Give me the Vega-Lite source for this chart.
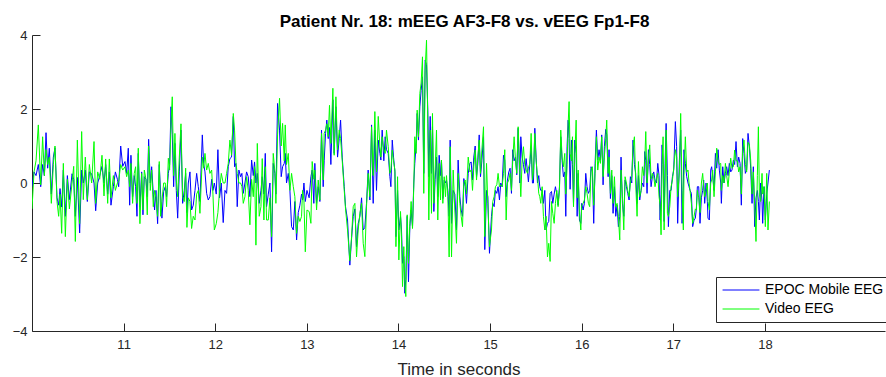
{
  "$schema": "https://vega.github.io/schema/vega-lite/v6.json",
  "width": 853,
  "height": 296,
  "autosize": {"type": "none"},
  "padding": {"left": 32, "top": 35, "right": 1, "bottom": 46},
  "background": "white",
  "title": {"text": "Patient Nr. 18: mEEG AF3-F8 vs. vEEG Fp1-F8", "font": "Liberation Sans", "fontSize": 17, "fontWeight": "bold", "color": "black", "offset": -2, "anchor": "middle", "dx": 6},
  "config": {
    "view": {"stroke": null},
    "axis": {"grid": false, "domainColor": "#262626", "tickColor": "#262626", "labelColor": "#262626", "titleColor": "#262626", "labelFont": "Liberation Sans", "titleFont": "Liberation Sans", "labelFontSize": 13, "titleFontSize": 17, "titleFontWeight": "normal", "tickSize": -8, "domainWidth": 1, "tickWidth": 1}
  },
  "data": {"values": [
    {"t":10.000,"m":-0.1,"v":-0.7},{"t":10.022,"m":0.3,"v":0.3},{"t":10.044,"m":0.2,"v":0.6},{"t":10.069,"m":0.5,"v":1.57},{"t":10.095,"m":-0.1,"v":-0.05},{"t":10.116,"m":0.5,"v":1.25},{"t":10.135,"m":0.2,"v":0.2},{"t":10.153,"m":1.36,"v":0.9},{"t":10.171,"m":0.4,"v":0.5},{"t":10.189,"m":0.94,"v":0.7},{"t":10.211,"m":-0.3,"v":-0.55},{"t":10.233,"m":0.7,"v":0.5},{"t":10.251,"m":0.95,"v":1.0},{"t":10.273,"m":-0.4,"v":-0.5},{"t":10.291,"m":-0.6,"v":-0.9},{"t":10.306,"m":-0.15,"v":-0.3},{"t":10.324,"m":-0.65,"v":-1.36},{"t":10.342,"m":0.35,"v":0.53},{"t":10.364,"m":-0.9,"v":-1.45},{"t":10.386,"m":0.2,"v":0.1},{"t":10.408,"m":-0.45,"v":-0.7},{"t":10.437,"m":0.25,"v":0.0},{"t":10.455,"m":0.1,"v":0.45},{"t":10.473,"m":-0.9,"v":-1.58},{"t":10.495,"m":0.15,"v":1.16},{"t":10.520,"m":-1.35,"v":-1.1},{"t":10.542,"m":0.35,"v":1.39},{"t":10.560,"m":0.0,"v":-0.45},{"t":10.582,"m":0.35,"v":0.7},{"t":10.604,"m":-0.5,"v":-0.45},{"t":10.626,"m":0.3,"v":0.5},{"t":10.651,"m":0.25,"v":0.0},{"t":10.677,"m":0.0,"v":1.12},{"t":10.695,"m":-0.75,"v":-0.55},{"t":10.717,"m":0.0,"v":0.3},{"t":10.739,"m":0.2,"v":0.1},{"t":10.764,"m":0.45,"v":0.75},{"t":10.786,"m":0.0,"v":-0.35},{"t":10.804,"m":0.5,"v":0.65},{"t":10.826,"m":-0.3,"v":-0.55},{"t":10.844,"m":0.3,"v":0.65},{"t":10.862,"m":-0.6,"v":-0.4},{"t":10.888,"m":-0.1,"v":0.2},{"t":10.910,"m":0.3,"v":-0.2},{"t":10.932,"m":0.1,"v":0.0},{"t":10.946,"m":-0.1,"v":0.05},{"t":10.968,"m":1.0,"v":0.5},{"t":10.990,"m":0.45,"v":0.35},
    {"t":11.015,"m":0.58,"v":0.44},{"t":11.033,"m":0.26,"v":0.17},{"t":11.051,"m":0.94,"v":0.35},{"t":11.066,"m":-0.6,"v":-0.1},{"t":11.080,"m":0.75,"v":0.53},{"t":11.098,"m":-0.37,"v":-0.55},{"t":11.116,"m":0.2,"v":0.26},{"t":11.131,"m":-0.1,"v":0.44},{"t":11.146,"m":-0.9,"v":-0.55},{"t":11.160,"m":0.8,"v":0.94},{"t":11.178,"m":-0.65,"v":-1.1},{"t":11.197,"m":0.3,"v":0.26},{"t":11.211,"m":-0.86,"v":-0.73},{"t":11.226,"m":0.17,"v":0.35},{"t":11.244,"m":0.1,"v":0.1},{"t":11.258,"m":-0.37,"v":-0.86},{"t":11.273,"m":1.18,"v":1.0},{"t":11.291,"m":0.0,"v":-0.2},{"t":11.306,"m":0.44,"v":0.35},{"t":11.324,"m":-0.3,"v":-0.64},{"t":11.338,"m":-0.73,"v":-0.2},{"t":11.353,"m":-0.2,"v":-0.4},{"t":11.371,"m":-1.1,"v":-0.9},{"t":11.389,"m":0.5,"v":0.58},{"t":11.404,"m":-0.3,"v":-0.9},{"t":11.418,"m":-0.95,"v":-0.5},{"t":11.437,"m":-0.23,"v":0.0},{"t":11.455,"m":-0.1,"v":0.0},{"t":11.469,"m":-0.37,"v":-0.64},{"t":11.488,"m":0.26,"v":0.67},{"t":11.502,"m":0.5,"v":0.35},{"t":11.517,"m":2.06,"v":1.6},{"t":11.531,"m":1.3,"v":2.33},{"t":11.546,"m":-0.1,"v":0.2},{"t":11.560,"m":1.07,"v":1.34},{"t":11.575,"m":-0.2,"v":0.08},{"t":11.590,"m":-0.95,"v":-0.37},{"t":11.608,"m":0.3,"v":0.7},{"t":11.626,"m":1.43,"v":1.6},{"t":11.644,"m":-0.55,"v":-0.37},{"t":11.662,"m":-0.2,"v":-0.5},{"t":11.677,"m":0.26,"v":0.4},{"t":11.691,"m":-0.8,"v":-1.2},{"t":11.706,"m":0.0,"v":-0.4},{"t":11.724,"m":0.3,"v":-0.5},{"t":11.742,"m":-0.73,"v":-1.23},{"t":11.760,"m":-0.6,"v":-0.9},{"t":11.779,"m":-0.2,"v":-1.0},{"t":11.797,"m":0.26,"v":-0.3},{"t":11.815,"m":-0.1,"v":-0.2},{"t":11.833,"m":-0.5,"v":-0.82},{"t":11.859,"m":1.3,"v":0.7},{"t":11.873,"m":0.53,"v":0.4},{"t":11.888,"m":0.3,"v":0.8},{"t":11.906,"m":-0.28,"v":0.35},{"t":11.924,"m":-0.46,"v":0.53},{"t":11.942,"m":-0.37,"v":0.26},{"t":11.961,"m":0.1,"v":0.35},{"t":11.975,"m":-0.2,"v":-0.3},{"t":11.990,"m":0.0,"v":-1.27},
    {"t":12.011,"m":-0.3,"v":-1.1},{"t":12.029,"m":0.9,"v":-0.8},{"t":12.047,"m":-0.4,"v":-0.2},{"t":12.066,"m":0.0,"v":0.26},{"t":12.087,"m":-1.07,"v":0.0},{"t":12.106,"m":-0.2,"v":0.0},{"t":12.124,"m":-0.28,"v":0.26},{"t":12.142,"m":0.44,"v":0.53},{"t":12.160,"m":0.66,"v":1.16},{"t":12.178,"m":0.7,"v":0.75},{"t":12.197,"m":1.8,"v":1.88},{"t":12.211,"m":0.44,"v":1.43},{"t":12.226,"m":0.53,"v":0.53},{"t":12.240,"m":-0.64,"v":0.26},{"t":12.258,"m":0.35,"v":0.0},{"t":12.277,"m":0.17,"v":0.0},{"t":12.291,"m":0.26,"v":-0.1},{"t":12.306,"m":-0.28,"v":-0.55},{"t":12.324,"m":0.0,"v":-0.37},{"t":12.342,"m":0.3,"v":0.17},{"t":12.360,"m":0.17,"v":-0.2},{"t":12.378,"m":-0.37,"v":-1.13},{"t":12.397,"m":0.62,"v":0.1},{"t":12.415,"m":0.2,"v":-0.37},{"t":12.429,"m":0.57,"v":0.44},{"t":12.444,"m":0.0,"v":-1.68},{"t":12.459,"m":0.26,"v":1.07},{"t":12.480,"m":-0.55,"v":-0.9},{"t":12.499,"m":-0.2,"v":-0.64},{"t":12.513,"m":0.17,"v":0.66},{"t":12.531,"m":-0.3,"v":-1.0},{"t":12.546,"m":0.8,"v":0.44},{"t":12.560,"m":-0.64,"v":-1.0},{"t":12.579,"m":-0.3,"v":-1.0},{"t":12.597,"m":0.0,"v":-0.4},{"t":12.615,"m":-1.86,"v":-1.45},{"t":12.633,"m":0.53,"v":0.8},{"t":12.651,"m":0.26,"v":0.3},{"t":12.662,"m":-0.3,"v":-0.55},{"t":12.680,"m":2.15,"v":1.3},{"t":12.702,"m":1.43,"v":2.29},{"t":12.720,"m":0.17,"v":1.0},{"t":12.735,"m":0.44,"v":1.61},{"t":12.753,"m":0.53,"v":0.6},{"t":12.764,"m":0.8,"v":1.57},{"t":12.778,"m":0.0,"v":0.5},{"t":12.797,"m":0.26,"v":0.8},{"t":12.815,"m":-0.2,"v":-0.2},{"t":12.833,"m":-1.18,"v":0.26},{"t":12.852,"m":-1.27,"v":-0.1},{"t":12.869,"m":-0.5,"v":-0.37},{"t":12.888,"m":-1.54,"v":-1.36},{"t":12.906,"m":-0.8,"v":-0.9},{"t":12.924,"m":-0.6,"v":-1.04},{"t":12.942,"m":-0.3,"v":-0.9},{"t":12.953,"m":-0.46,"v":-0.2},{"t":12.968,"m":0.0,"v":-0.46},{"t":12.983,"m":-0.5,"v":-1.86},{"t":13.001,"m":-0.2,"v":-0.73},
    {"t":13.025,"m":-0.4,"v":-0.77},{"t":13.044,"m":0.17,"v":-1.09},{"t":13.058,"m":0.35,"v":0.58},{"t":13.076,"m":-0.55,"v":0.1},{"t":13.087,"m":0.53,"v":0.35},{"t":13.106,"m":-0.55,"v":-0.73},{"t":13.124,"m":-0.1,"v":0.08},{"t":13.142,"m":-0.5,"v":-0.46},{"t":13.160,"m":1.43,"v":1.34},{"t":13.178,"m":-0.1,"v":0.08},{"t":13.189,"m":0.6,"v":1.34},{"t":13.204,"m":1.34,"v":1.43},{"t":13.218,"m":1.7,"v":1.6},{"t":13.233,"m":1.2,"v":1.25},{"t":13.247,"m":1.5,"v":2.1},{"t":13.262,"m":0.5,"v":1.07},{"t":13.284,"m":2.25,"v":2.56},{"t":13.298,"m":0.8,"v":0.75},{"t":13.317,"m":2.06,"v":2.33},{"t":13.335,"m":0.7,"v":0.9},{"t":13.353,"m":1.2,"v":1.43},{"t":13.368,"m":1.7,"v":1.2},{"t":13.386,"m":0.7,"v":0.6},{"t":13.408,"m":-0.1,"v":-0.2},{"t":13.422,"m":-0.64,"v":-0.7},{"t":13.444,"m":-1.0,"v":-1.27},{"t":13.469,"m":-2.22,"v":-2.1},{"t":13.488,"m":-1.5,"v":-1.45},{"t":13.506,"m":-0.9,"v":-0.64},{"t":13.524,"m":-0.7,"v":-0.55},{"t":13.542,"m":-1.73,"v":-2.0},{"t":13.560,"m":-1.1,"v":-1.27},{"t":13.579,"m":-0.9,"v":-0.82},{"t":13.597,"m":-0.4,"v":-0.55},{"t":13.615,"m":-1.27,"v":-1.63},{"t":13.633,"m":-1.2,"v":-1.99},{"t":13.651,"m":-0.55,"v":-0.64},{"t":13.669,"m":0.35,"v":0.26},{"t":13.688,"m":-0.46,"v":-0.37},{"t":13.706,"m":1.57,"v":1.52},{"t":13.724,"m":-0.55,"v":0.2},{"t":13.742,"m":1.43,"v":1.93},{"t":13.760,"m":-0.2,"v":0.3},{"t":13.779,"m":1.16,"v":1.8},{"t":13.797,"m":0.8,"v":0.98},{"t":13.808,"m":0.62,"v":0.7},{"t":13.822,"m":1.43,"v":1.25},{"t":13.840,"m":0.6,"v":0.89},{"t":13.855,"m":1.25,"v":0.8},{"t":13.869,"m":0.9,"v":1.43},{"t":13.888,"m":0.8,"v":0.98},{"t":13.906,"m":0.17,"v":0.26},{"t":13.917,"m":-0.1,"v":0.35},{"t":13.932,"m":1.16,"v":0.89},{"t":13.946,"m":0.7,"v":0.6},{"t":13.961,"m":0.3,"v":0.35},{"t":13.972,"m":-1.45,"v":-1.72},{"t":13.990,"m":-0.2,"v":0.17},{"t":14.004,"m":-1.27,"v":-2.08},
    {"t":14.022,"m":-0.9,"v":-0.77},{"t":14.033,"m":-1.27,"v":-1.45},{"t":14.044,"m":-2.17,"v":-2.8},{"t":14.058,"m":-1.99,"v":-1.72},{"t":14.069,"m":-2.98,"v":-2.7},{"t":14.080,"m":-2.6,"v":-3.07},{"t":14.095,"m":-0.9,"v":-0.86},{"t":14.109,"m":-2.67,"v":-2.17},{"t":14.124,"m":-1.18,"v":-1.09},{"t":14.138,"m":-0.73,"v":-0.5},{"t":14.153,"m":-1.18,"v":-1.23},{"t":14.167,"m":0.0,"v":-0.1},{"t":14.178,"m":0.53,"v":1.25},{"t":14.193,"m":1.07,"v":0.8},{"t":14.204,"m":1.88,"v":1.97},{"t":14.218,"m":1.16,"v":1.25},{"t":14.233,"m":2.06,"v":2.42},{"t":14.247,"m":2.5,"v":2.7},{"t":14.262,"m":2.87,"v":3.41},{"t":14.276,"m":0.26,"v":-0.28},{"t":14.291,"m":3.32,"v":3.05},{"t":14.306,"m":3.2,"v":3.86},{"t":14.320,"m":1.97,"v":1.6},{"t":14.331,"m":0.17,"v":-1.0},{"t":14.346,"m":1.8,"v":1.43},{"t":14.360,"m":0.26,"v":-0.82},{"t":14.371,"m":1.52,"v":1.88},{"t":14.386,"m":-0.77,"v":-0.55},{"t":14.400,"m":0.1,"v":0.35},{"t":14.415,"m":0.7,"v":1.43},{"t":14.429,"m":-0.37,"v":-1.0},{"t":14.444,"m":0.75,"v":0.53},{"t":14.459,"m":0.2,"v":-0.46},{"t":14.469,"m":0.62,"v":0.62},{"t":14.484,"m":-0.42,"v":-0.55},{"t":14.499,"m":0.08,"v":0.17},{"t":14.513,"m":0.0,"v":-0.37},{"t":14.524,"m":0.08,"v":0.2},{"t":14.539,"m":-0.2,"v":-0.37},{"t":14.553,"m":-0.9,"v":-2.0},{"t":14.564,"m":1.16,"v":0.98},{"t":14.579,"m":-1.09,"v":-2.0},{"t":14.597,"m":-0.2,"v":0.35},{"t":14.615,"m":-0.3,"v":-0.73},{"t":14.633,"m":-1.27,"v":-1.63},{"t":14.651,"m":0.62,"v":0.26},{"t":14.670,"m":-0.37,"v":-0.55},{"t":14.684,"m":-0.73,"v":-0.9},{"t":14.699,"m":-0.9,"v":-1.18},{"t":14.713,"m":0.12,"v":0.0},{"t":14.728,"m":-0.1,"v":0.08},{"t":14.742,"m":-0.55,"v":-0.3},{"t":14.761,"m":0.26,"v":0.7},{"t":14.779,"m":0.53,"v":0.3},{"t":14.793,"m":0.57,"v":0.35},{"t":14.808,"m":0.08,"v":-0.2},{"t":14.822,"m":0.7,"v":0.44},{"t":14.837,"m":1.0,"v":0.89},{"t":14.852,"m":0.17,"v":0.08},{"t":14.866,"m":0.53,"v":0.7},{"t":14.881,"m":1.3,"v":1.16},{"t":14.895,"m":0.17,"v":0.26},{"t":14.910,"m":0.6,"v":0.89},{"t":14.928,"m":1.25,"v":1.52},{"t":14.942,"m":-1.8,"v":-1.45},{"t":14.961,"m":-0.2,"v":0.53},{"t":14.975,"m":-0.37,"v":-0.55},{"t":14.993,"m":-1.9,"v":-1.72},
    {"t":15.015,"m":-0.9,"v":-1.27},{"t":15.029,"m":-0.55,"v":-0.5},{"t":15.044,"m":-0.64,"v":-0.37},{"t":15.058,"m":-0.2,"v":-0.1},{"t":15.073,"m":-0.28,"v":-0.05},{"t":15.087,"m":-0.1,"v":0.26},{"t":15.102,"m":-0.46,"v":-0.1},{"t":15.116,"m":0.0,"v":-0.05},{"t":15.131,"m":-0.1,"v":-0.1},{"t":15.146,"m":0.75,"v":0.26},{"t":15.160,"m":0.62,"v":0.9},{"t":15.175,"m":-0.37,"v":-1.0},{"t":15.189,"m":0.08,"v":0.0},{"t":15.204,"m":0.3,"v":0.08},{"t":15.218,"m":0.4,"v":0.26},{"t":15.233,"m":-0.28,"v":-0.2},{"t":15.247,"m":0.9,"v":0.62},{"t":15.262,"m":0.6,"v":1.25},{"t":15.277,"m":0.7,"v":0.62},{"t":15.291,"m":0.22,"v":0.26},{"t":15.306,"m":1.48,"v":1.52},{"t":15.324,"m":0.0,"v":0.3},{"t":15.335,"m":1.25,"v":-0.37},{"t":15.349,"m":0.7,"v":0.6},{"t":15.364,"m":0.5,"v":0.98},{"t":15.378,"m":0.26,"v":0.5},{"t":15.393,"m":0.66,"v":0.35},{"t":15.408,"m":0.3,"v":0.26},{"t":15.418,"m":0.03,"v":0.4},{"t":15.433,"m":0.5,"v":0.53},{"t":15.448,"m":0.98,"v":1.34},{"t":15.462,"m":0.0,"v":0.08},{"t":15.473,"m":0.0,"v":0.3},{"t":15.488,"m":1.48,"v":1.34},{"t":15.502,"m":0.7,"v":0.6},{"t":15.517,"m":0.0,"v":0.17},{"t":15.531,"m":0.2,"v":-0.28},{"t":15.542,"m":-0.1,"v":-0.37},{"t":15.553,"m":-0.2,"v":-0.55},{"t":15.568,"m":-0.2,"v":-0.1},{"t":15.582,"m":-0.55,"v":-0.9},{"t":15.597,"m":-0.2,"v":-1.27},{"t":15.611,"m":-1.27,"v":-0.9},{"t":15.626,"m":-1.09,"v":-2.0},{"t":15.640,"m":-1.04,"v":-1.63},{"t":15.655,"m":-0.28,"v":-2.12},{"t":15.670,"m":-0.23,"v":-0.5},{"t":15.684,"m":-0.55,"v":-0.82},{"t":15.699,"m":-0.3,"v":-1.09},{"t":15.713,"m":-0.1,"v":-0.55},{"t":15.728,"m":-0.3,"v":-0.2},{"t":15.742,"m":-0.6,"v":-0.64},{"t":15.757,"m":-0.1,"v":-0.2},{"t":15.771,"m":1.25,"v":1.43},{"t":15.786,"m":0.6,"v":0.7},{"t":15.800,"m":0.17,"v":0.44},{"t":15.815,"m":0.3,"v":0.8},{"t":15.826,"m":-0.9,"v":-0.3},{"t":15.840,"m":0.98,"v":0.5},{"t":15.852,"m":1.7,"v":1.6},{"t":15.862,"m":1.2,"v":2.2},{"t":15.873,"m":-0.17,"v":0.8},{"t":15.888,"m":1.16,"v":0.6},{"t":15.899,"m":0.5,"v":1.25},{"t":15.910,"m":-0.55,"v":-0.64},{"t":15.924,"m":1.16,"v":0.7},{"t":15.939,"m":0.8,"v":1.7},{"t":15.950,"m":-0.9,"v":-0.4},{"t":15.961,"m":0.26,"v":0.35},{"t":15.975,"m":-1.0,"v":-0.82},{"t":15.990,"m":-1.09,"v":-1.27},
    {"t":16.000,"m":-0.55,"v":-0.6},{"t":16.015,"m":-0.73,"v":-0.55},{"t":16.029,"m":-0.55,"v":-0.46},{"t":16.044,"m":0.26,"v":-0.1},{"t":16.058,"m":-0.1,"v":-0.28},{"t":16.073,"m":-0.28,"v":-0.55},{"t":16.087,"m":-0.2,"v":-0.64},{"t":16.102,"m":0.44,"v":0.35},{"t":16.116,"m":0.3,"v":0.44},{"t":16.131,"m":-1.09,"v":-0.6},{"t":16.146,"m":0.53,"v":0.26},{"t":16.160,"m":1.43,"v":1.25},{"t":16.175,"m":0.62,"v":0.35},{"t":16.189,"m":0.9,"v":0.7},{"t":16.204,"m":0.62,"v":0.53},{"t":16.218,"m":1.3,"v":1.25},{"t":16.233,"m":-0.05,"v":0.17},{"t":16.247,"m":0.98,"v":0.7},{"t":16.262,"m":1.45,"v":1.2},{"t":16.273,"m":1.3,"v":1.7},{"t":16.288,"m":0.17,"v":0.26},{"t":16.298,"m":0.9,"v":0.7},{"t":16.313,"m":-0.42,"v":-0.28},{"t":16.328,"m":0.2,"v":0.35},{"t":16.342,"m":-0.82,"v":-0.55},{"t":16.357,"m":-0.1,"v":0.17},{"t":16.371,"m":-0.9,"v":-0.64},{"t":16.386,"m":-0.6,"v":-0.55},{"t":16.400,"m":-1.18,"v":-0.9},{"t":16.415,"m":-0.9,"v":-1.54},{"t":16.429,"m":0.7,"v":0.35},{"t":16.444,"m":-0.55,"v":-0.37},{"t":16.459,"m":-0.9,"v":-1.27},{"t":16.473,"m":0.08,"v":0.17},{"t":16.488,"m":-0.1,"v":0.0},{"t":16.502,"m":-0.28,"v":-0.2},{"t":16.517,"m":-0.46,"v":-0.37},{"t":16.531,"m":0.17,"v":0.0},{"t":16.546,"m":0.0,"v":0.17},{"t":16.560,"m":1.16,"v":0.98},{"t":16.575,"m":0.5,"v":1.25},{"t":16.589,"m":0.26,"v":0.0},{"t":16.604,"m":-0.55,"v":-0.9},{"t":16.619,"m":0.2,"v":0.58},{"t":16.633,"m":-0.46,"v":-0.37},{"t":16.648,"m":-0.2,"v":-0.2},{"t":16.662,"m":0.0,"v":0.44},{"t":16.677,"m":-0.1,"v":0.2},{"t":16.688,"m":0.85,"v":0.6},{"t":16.699,"m":0.6,"v":1.39},{"t":16.713,"m":-0.28,"v":0.0},{"t":16.728,"m":0.9,"v":0.62},{"t":16.742,"m":0.5,"v":1.03},{"t":16.757,"m":-0.1,"v":0.1},{"t":16.771,"m":0.17,"v":0.26},{"t":16.786,"m":0.3,"v":0.17},{"t":16.800,"m":0.08,"v":-0.1},{"t":16.815,"m":0.0,"v":0.1},{"t":16.830,"m":0.53,"v":0.26},{"t":16.844,"m":0.2,"v":-0.37},{"t":16.855,"m":-1.0,"v":-0.6},{"t":16.866,"m":-0.3,"v":-1.4},{"t":16.877,"m":1.03,"v":0.5},{"t":16.888,"m":0.5,"v":1.25},{"t":16.899,"m":-1.04,"v":-1.27},{"t":16.910,"m":0.53,"v":0.0},{"t":16.921,"m":1.61,"v":1.43},{"t":16.935,"m":0.2,"v":-0.82},{"t":16.946,"m":-1.18,"v":-0.9},{"t":16.961,"m":-0.2,"v":-0.64},{"t":16.975,"m":-0.2,"v":-0.1},{"t":16.990,"m":0.17,"v":0.08},{"t":17.004,"m":0.35,"v":0.4},
    {"t":17.022,"m":1.66,"v":0.9},{"t":17.036,"m":0.98,"v":0.7},{"t":17.047,"m":-1.09,"v":-0.37},{"t":17.066,"m":0.62,"v":0.3},{"t":17.080,"m":1.43,"v":1.88},{"t":17.095,"m":-1.09,"v":-0.2},{"t":17.109,"m":0.0,"v":-1.27},{"t":17.116,"m":0.9,"v":0.2},{"t":17.131,"m":0.53,"v":1.25},{"t":17.146,"m":0.17,"v":0.3},{"t":17.160,"m":0.0,"v":0.35},{"t":17.171,"m":-0.1,"v":0.0},{"t":17.182,"m":-0.2,"v":-0.2},{"t":17.197,"m":-0.28,"v":-0.55},{"t":17.211,"m":-1.18,"v":-1.09},{"t":17.226,"m":-1.0,"v":-0.9},{"t":17.240,"m":-0.95,"v":-0.7},{"t":17.251,"m":-0.7,"v":-0.73},{"t":17.262,"m":-0.1,"v":-0.2},{"t":17.277,"m":-0.1,"v":-0.4},{"t":17.291,"m":-1.09,"v":-0.8},{"t":17.306,"m":-0.4,"v":0.0},{"t":17.320,"m":-0.2,"v":0.26},{"t":17.331,"m":0.08,"v":-0.1},{"t":17.342,"m":-0.55,"v":-0.37},{"t":17.357,"m":0.0,"v":-0.2},{"t":17.371,"m":-0.5,"v":0.0},{"t":17.378,"m":-0.95,"v":-0.5},{"t":17.393,"m":-1.0,"v":-0.73},{"t":17.408,"m":0.35,"v":0.0},{"t":17.418,"m":0.44,"v":0.08},{"t":17.429,"m":0.2,"v":0.35},{"t":17.444,"m":-0.2,"v":-0.37},{"t":17.459,"m":0.8,"v":0.3},{"t":17.473,"m":0.4,"v":0.94},{"t":17.488,"m":0.9,"v":0.6},{"t":17.502,"m":0.35,"v":0.5},{"t":17.517,"m":0.0,"v":0.53},{"t":17.524,"m":-0.55,"v":-0.2},{"t":17.539,"m":0.44,"v":0.2},{"t":17.553,"m":0.0,"v":0.0},{"t":17.568,"m":0.26,"v":0.53},{"t":17.582,"m":0.44,"v":0.2},{"t":17.597,"m":0.2,"v":-0.1},{"t":17.611,"m":0.53,"v":0.3},{"t":17.626,"m":0.3,"v":0.67},{"t":17.640,"m":0.35,"v":0.4},{"t":17.655,"m":0.62,"v":0.44},{"t":17.669,"m":0.5,"v":0.89},{"t":17.684,"m":1.12,"v":0.6},{"t":17.699,"m":0.44,"v":0.6},{"t":17.713,"m":0.7,"v":0.3},{"t":17.728,"m":0.53,"v":0.44},{"t":17.742,"m":-0.6,"v":-0.3},{"t":17.757,"m":1.2,"v":0.9},{"t":17.771,"m":0.8,"v":1.16},{"t":17.786,"m":0.26,"v":0.5},{"t":17.800,"m":0.35,"v":0.3},{"t":17.815,"m":1.34,"v":1.1},{"t":17.830,"m":0.98,"v":1.03},{"t":17.844,"m":0.4,"v":0.62},{"t":17.859,"m":-0.55,"v":-0.3},{"t":17.873,"m":0.44,"v":0.3},{"t":17.888,"m":-1.18,"v":-0.6},{"t":17.902,"m":-0.4,"v":-1.58},{"t":17.917,"m":-0.2,"v":0.2},{"t":17.928,"m":-0.5,"v":1.52},{"t":17.939,"m":-1.0,"v":-0.3},{"t":17.953,"m":0.0,"v":-0.5},{"t":17.968,"m":-0.5,"v":0.26},{"t":17.975,"m":-1.09,"v":-0.3},{"t":17.990,"m":-0.1,"v":-0.1},{"t":18.004,"m":-1.0,"v":-1.18},{"t":18.019,"m":-0.3,"v":0.26},{"t":18.033,"m":0.0,"v":-1.27},{"t":18.048,"m":0.35,"v":-0.5}
  ]},
  "transform": [{"fold": ["m", "v"], "as": ["series", "value"]}],
  "mark": {"type": "line", "strokeWidth": 1, "clip": true},
  "encoding": {
    "x": {"field": "t", "type": "quantitative", "scale": {"domain": [10, 19.31], "nice": false, "zero": false},
      "axis": {"values": [11, 12, 13, 14, 15, 16, 17, 18], "title": "Time in seconds", "labelPadding": 15, "titlePadding": 10}},
    "y": {"field": "value", "type": "quantitative", "scale": {"domain": [-4, 4], "nice": false, "zero": false},
      "axis": {"values": [-4, -2, 0, 2, 4], "title": null, "labelPadding": 13}},
    "color": {"field": "series", "type": "nominal", "scale": {"domain": ["m", "v"], "range": ["#0000ff", "#00ff00"]},
      "legend": {"orient": "none", "legendX": 684, "legendY": 242, "title": null, "strokeColor": "#262626", "fillColor": "white", "padding": 6, "symbolType": "M-4,0H4", "symbolSize": 85, "symbolStrokeWidth": 1, "symbolOffset": 12, "labelFont": "Liberation Sans", "labelFontSize": 14, "labelColor": "black", "labelOffset": 17, "rowPadding": 5,
        "labelExpr": "datum.label == 'm' ? 'EPOC Mobile EEG' : 'Video EEG'"}}
  }
}
